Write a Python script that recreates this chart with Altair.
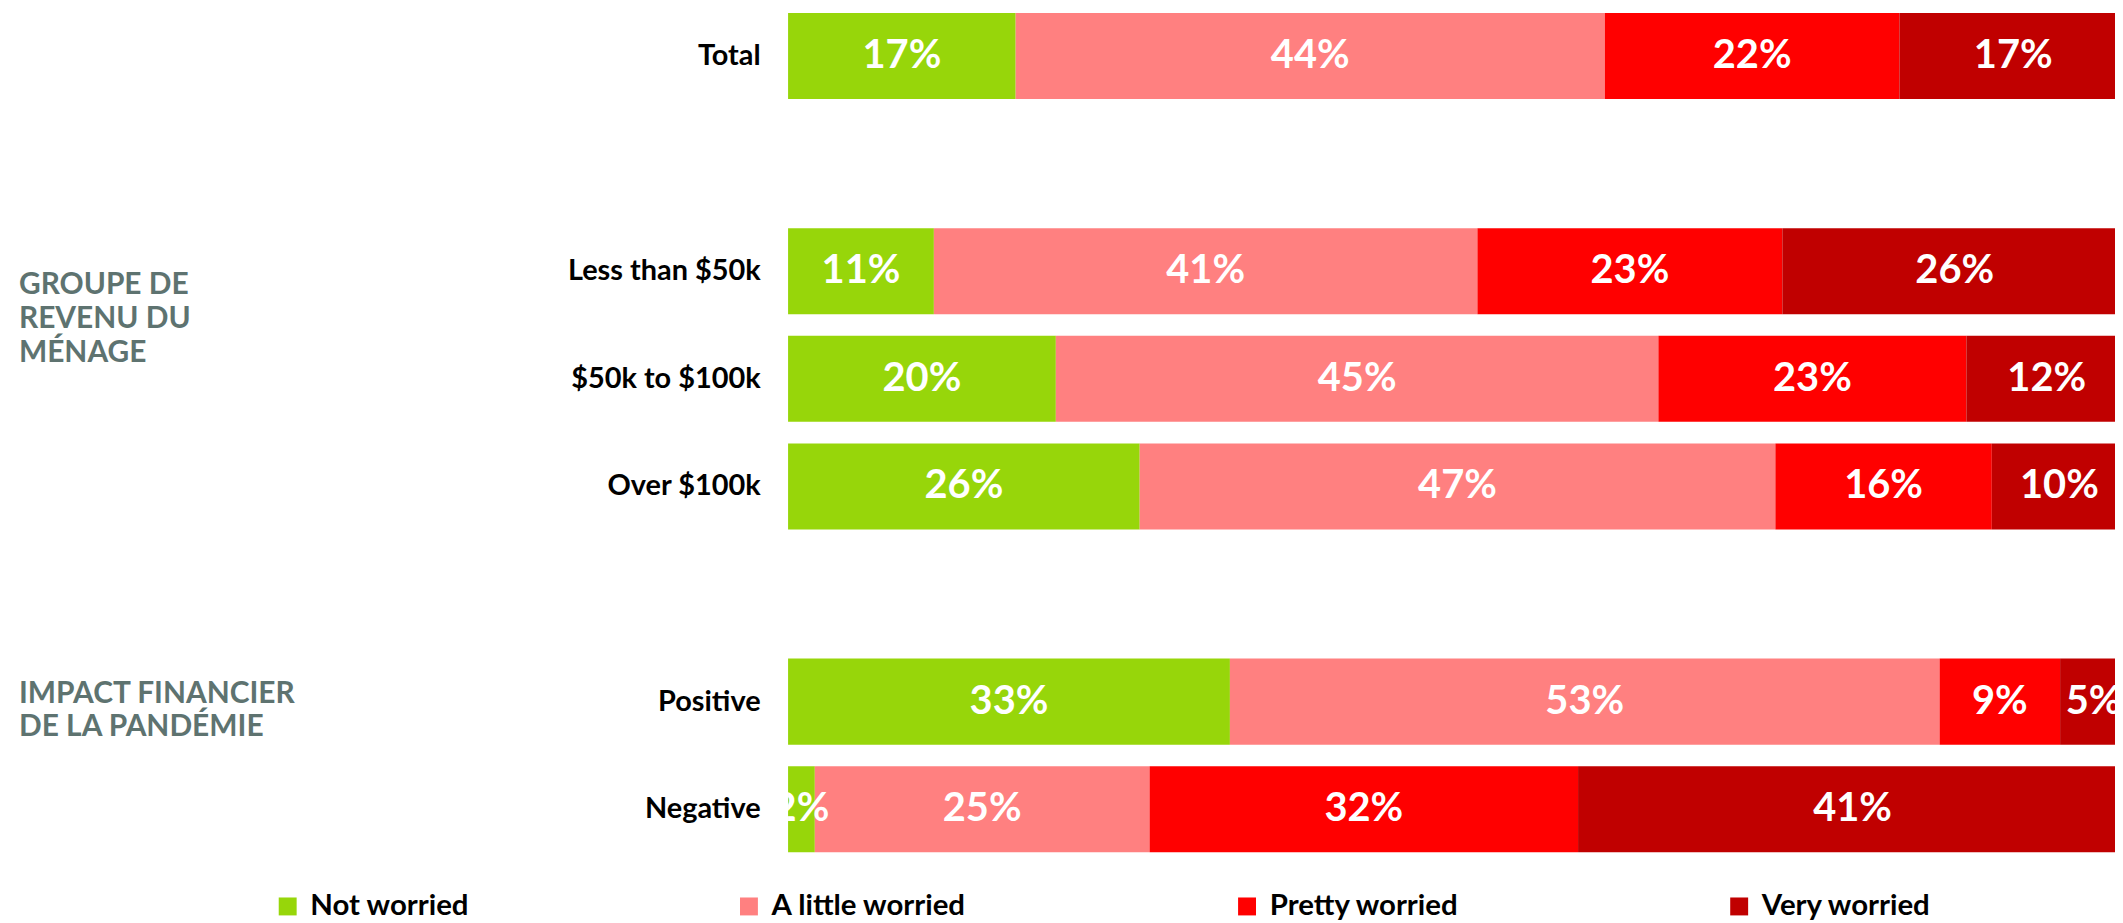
import altair as alt
import pandas as pd

# ---- data ----
rows = ["Total", "Less than $50k", "$50k to $100k", "Over $100k", "Positive", "Negative"]
slots = ["Total", " ", "Less than $50k", "$50k to $100k", "Over $100k", "  ", "Positive", "Negative"]
series = ["Not worried", "A little worried", "Pretty worried", "Very worried"]
not_worried = [17, 11, 20, 26, 33, 2]
a_little_worried = [44, 41, 45, 47, 53, 25]
pretty_worried = [22, 23, 23, 16, 9, 32]
very_worried = [17, 26, 12, 10, 5, 41]
colors = ["#97D60A", "#FF8080", "#FF0000", "#C00000"]

group_titles = ["GROUPE DE\nREVENU DU\nMÉNAGE", "IMPACT FINANCIER\nDE LA PANDÉMIE"]
group_anchor = ["Less than $50k", "Positive"]

# ---- build tables ----
records = []
for s_i, (name, vals) in enumerate(zip(series, [not_worried, a_little_worried, pretty_worried, very_worried])):
    for r, v in zip(rows, vals):
        records.append({"row": r, "series": name, "order": s_i, "value": v})
df = pd.DataFrame(records)
titles_df = pd.DataFrame({"title": group_titles, "anchor": group_anchor, "g": [0, 1]})

FONT = "Lato"
y_scale = alt.Scale(domain=slots, paddingInner=0.2, paddingOuter=0.03)
x_scale = alt.Scale(domain=[0, 99.1], nice=False, zero=False)

base = alt.Chart(df).transform_joinaggregate(
    total="sum(value)", groupby=["row"]
).transform_window(
    cum="sum(value)", sort=[alt.SortField("order")], groupby=["row"],
    frame=[None, 0]
).transform_calculate(
    start="(datum.cum - datum.value) / datum.total * 100",
    end="datum.cum / datum.total * 100",
    label="datum.value + '%'",
).transform_calculate(
    mid="(datum.start + datum.end) / 2"
)

bars = base.mark_bar(clip=True).encode(
    x=alt.X("start:Q", scale=x_scale, axis=None),
    x2="end:Q",
    y=alt.Y("row:N", scale=y_scale, sort=slots, title=None,
            axis=alt.Axis(domain=False, ticks=False, tickSize=0, labelPadding=28,
                          labelFont=FONT, labelFontSize=29, labelFontWeight="bold",
                          labelColor="#000000", labelLimit=400)),
    color=alt.Color("series:N", scale=alt.Scale(domain=series, range=colors),
                    legend=alt.Legend(orient="none", legendX=-517, legendY=885,
                                      direction="horizontal", title=None,
                                      symbolType="square",
                                      symbolSize=324, symbolStrokeWidth=0,
                                      symbolOpacity=1, columnPadding=266,
                                      labelFont=FONT, labelFontSize=29.5,
                                      labelFontWeight="bold", labelColor="#000000",
                                      labelLimit=400, labelOffset=8, padding=0)),
    order=alt.Order("order:Q"),
)

labels = base.mark_text(clip=True, color="white", font=FONT, fontSize=40,
                        fontWeight="bold", baseline="middle", align="center").encode(
    x=alt.X("mid:Q", scale=x_scale),
    y=alt.Y("row:N", scale=y_scale, sort=slots),
    text="label:N",
)

title_common = dict(align="left", baseline="top", lineBreak="\n", lineHeight=34,
                    font=FONT, fontSize=30, fontWeight="bold", color="#5E7370")

titles_income = alt.Chart(titles_df).transform_filter("datum.g == 0").mark_text(
    dy=-1, **title_common).encode(
    x=alt.value(-772),
    y=alt.Y("anchor:N", scale=y_scale, sort=slots),
    text="title:N",
)
titles_impact = alt.Chart(titles_df).transform_filter("datum.g == 1").mark_text(
    dy=-23, **title_common).encode(
    x=alt.value(-772),
    y=alt.Y("anchor:N", scale=y_scale, sort=slots),
    text="title:N",
)

chart = alt.layer(bars, labels, titles_income, titles_impact).properties(
    width=1332, height=849,
    autosize=alt.AutoSizeParams(type="none"),
    padding={"left": 783, "top": 0, "right": 0, "bottom": 66},
).configure_view(stroke=None)

chart.save("out.html", embed_options={"renderer": "svg", "actions": False})
